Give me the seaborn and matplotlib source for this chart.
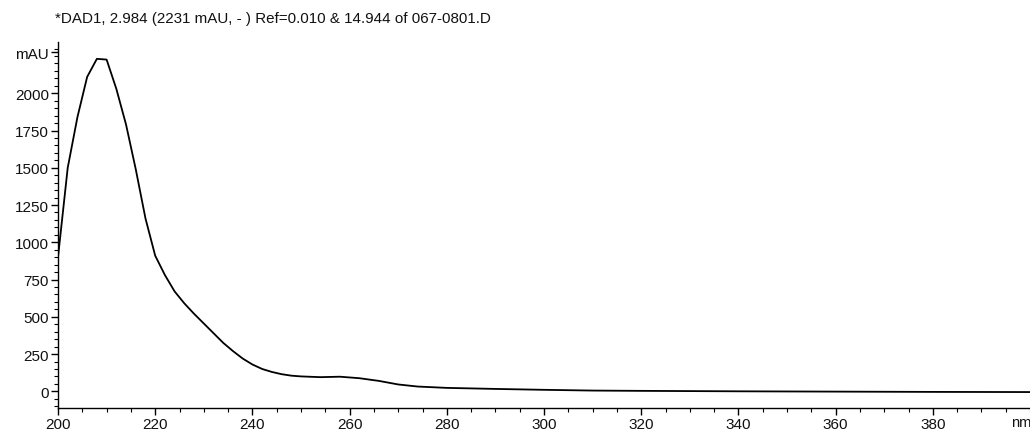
import matplotlib
matplotlib.use("Agg")
import matplotlib.pyplot as plt
import seaborn as sns
import pandas as pd
import numpy as np
from matplotlib.ticker import MultipleLocator

# Data
wavelength_nm = [200, 202, 204, 206, 208, 210, 212, 214, 216, 218, 220, 222, 224, 226,
                 228, 230, 232, 234, 236, 238, 240, 242, 244, 246, 248, 250, 254, 258,
                 262, 266, 270, 274, 280, 290, 300, 310, 320, 340, 360, 380, 400]
absorbance_mau = [900, 1500, 1840, 2110, 2231, 2226, 2030, 1790, 1490, 1160, 910, 780,
                  670, 590, 520, 455, 390, 325, 270, 220, 180, 150, 130, 115, 105, 100,
                  95, 98, 88, 70, 46, 32, 23, 16, 10, 5, 3, 0, -2, -4, -5]

y_major_ticks = [0, 250, 500, 750, 1000, 1250, 1500, 1750, 2000, 2275]
y_tick_labels = ["0", "250", "500", "750", "1000", "1250", "1500", "1750", "2000", "mAU"]
x_major_ticks = [200, 220, 240, 260, 280, 300, 320, 340, 360, 380]
x_tick_labels = [str(v) for v in x_major_ticks]
title_text = "*DAD1, 2.984 (2231 mAU, - ) Ref=0.010 & 14.944 of 067-0801.D"
x_unit = "nm"

sns.set_style("ticks")
plt.rcParams["font.family"] = ["Liberation Sans", "DejaVu Sans"]

df = pd.DataFrame({"nm": wavelength_nm, "mAU": absorbance_mau})

fig = plt.figure(figsize=(10.30, 4.39), dpi=100)
ax = fig.add_axes([58 / 1030, 29.7 / 439, 972 / 1030, 366.3 / 439])

sns.lineplot(data=df, x="nm", y="mAU", ax=ax, color="black", linewidth=1.3, sort=True)

ax.set_xlim(200, 400)
ax.set_ylim(-114, 2344)
ax.set_xlabel("")
ax.set_ylabel("")

ax.set_xticks(x_major_ticks)
ax.set_xticklabels(x_tick_labels)
ax.set_yticks(y_major_ticks)
ax.set_yticklabels(y_tick_labels)
ax.xaxis.set_minor_locator(MultipleLocator(5))
ax.yaxis.set_minor_locator(MultipleLocator(50))

ax.tick_params(axis="both", which="major", direction="out", length=5, width=1,
               labelsize=11, color="black", labelcolor="#111111", pad=1.5)
ax.tick_params(axis="both", which="minor", direction="out", length=3, width=0.8,
               color="black")

for side in ["top", "right"]:
    ax.spines[side].set_visible(False)
for side in ["left", "bottom"]:
    ax.spines[side].set_color("black")
    ax.spines[side].set_linewidth(1.0)

fig.text(55 / 1030, 1 - 19 / 439, title_text, fontsize=10.9, color="#111111",
         ha="left", va="center")
fig.text(1021 / 1030, 1 - 423 / 439, x_unit, fontsize=10.5, color="#111111",
         ha="center", va="center")

fig.savefig("out.png", dpi=100, facecolor="white")
